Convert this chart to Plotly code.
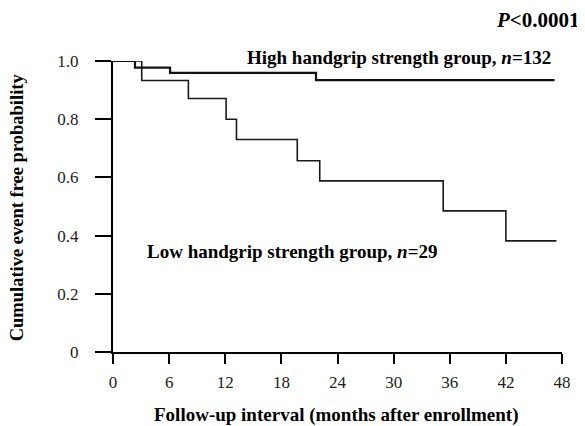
import plotly.graph_objects as go

# Kaplan-Meier step data (months, survival probability)
high_times = [0, 2.35, 6.1, 21.7, 47.2]
high_surv = [1.0, 0.977, 0.959, 0.934, 0.934]

low_times = [0, 3.07, 8.06, 12.09, 13.2, 19.7, 22.1, 35.3, 42.0, 47.4]
low_surv = [1.0, 0.933, 0.871, 0.800, 0.730, 0.657, 0.588, 0.485, 0.382, 0.382]

x_ticks = [0, 6, 12, 18, 24, 30, 36, 42, 48]
y_ticks = [0, 0.2, 0.4, 0.6, 0.8, 1.0]
y_tick_labels = ["0", "0.2", "0.4", "0.6", "0.8", "1.0"]

FONT = "Liberation Serif"

fig = go.Figure()
fig.add_trace(go.Scatter(x=low_times, y=low_surv, mode="lines", line_shape="hv",
                         line=dict(color="#1a1a1a", width=1.6), cliponaxis=False,
                         showlegend=False))
fig.add_trace(go.Scatter(x=high_times, y=high_surv, mode="lines", line_shape="hv",
                         line=dict(color="#111111", width=2.2), cliponaxis=False,
                         showlegend=False))

fig.update_layout(
    width=577, height=418,
    margin=dict(l=105, r=23, t=53, b=74, autoexpand=False),
    paper_bgcolor="white", plot_bgcolor="white",
    font=dict(family=FONT, color="black", size=17),
    xaxis=dict(range=[0, 48], tickvals=x_ticks, ticks="outside", ticklen=10,
               tickwidth=2, tickcolor="black", showline=True, linecolor="black",
               linewidth=2, showgrid=False, zeroline=False, ticklabelstandoff=4,
               tickfont=dict(family=FONT, size=17, color="#222")),
    yaxis=dict(range=[0, 1], tickvals=y_ticks, ticktext=y_tick_labels,
               ticks="outside", ticklen=16, tickwidth=2, tickcolor="black",
               showline=True, linecolor="black", linewidth=2, showgrid=False,
               zeroline=False, ticklabelstandoff=13,
               tickfont=dict(family=FONT, size=17, color="#222")),
)

fig.add_annotation(x=(245 - 113) / 449, y=(352 - 56.7) / 291.3, xref="paper", yref="paper",
                   xanchor="left", yanchor="middle",
                   text="<b>High handgrip strength group, <i>n</i>=132</b>",
                   showarrow=False, font=dict(family=FONT, size=19))
fig.add_annotation(x=(145 - 113) / 449, y=(352 - 251.7) / 291.3, xref="paper", yref="paper",
                   xanchor="left", yanchor="middle",
                   text="<b>Low handgrip strength group, <i>n</i>=29</b>",
                   showarrow=False, font=dict(family=FONT, size=19))
fig.add_annotation(x=(582 - 113) / 449, y=(352 - 20) / 291.3, xref="paper", yref="paper",
                   xanchor="right", yanchor="middle",
                   text="<b><i>P</i>&lt;0.0001</b>",
                   showarrow=False, font=dict(family=FONT, size=21))
fig.add_annotation(x=(335.7 - 113) / 449, y=(352 - 415.5) / 291.3, xref="paper", yref="paper",
                   xanchor="center", yanchor="middle",
                   text="<b>Follow-up interval (months after enrollment)</b>",
                   showarrow=False, font=dict(family=FONT, size=19))
fig.add_annotation(x=(16.7 - 113) / 449, y=(352 - 207.5) / 291.3, xref="paper", yref="paper",
                   xanchor="center", yanchor="middle",
                   text="<b>Cumulative event free probability</b>", textangle=-90,
                   showarrow=False, font=dict(family=FONT, size=18.5))

fig.write_html("out.html")
